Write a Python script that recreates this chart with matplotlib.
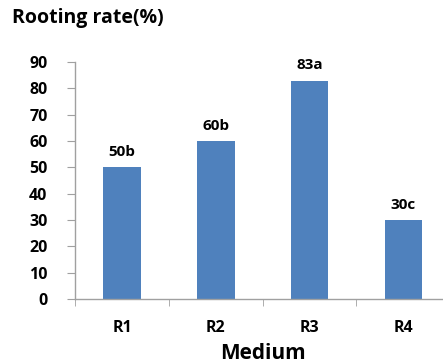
import matplotlib
matplotlib.use("Agg")
import matplotlib.pyplot as plt

categories = ["R1", "R2", "R3", "R4"]
rooting_rate = [50, 60, 83, 30]
letters = ["b", "b", "a", "c"]
yticks = [0, 10, 20, 30, 40, 50, 60, 70, 80, 90]

plt.rcParams["font.family"] = ["Open Sans", "DejaVu Sans"]
plt.rcParams["font.weight"] = "bold"

BAR_COLOR = "#4F81BD"
AXIS_COLOR = "#A0A0A0"

fig = plt.figure(figsize=(4.43, 3.63), dpi=100)
ax = fig.add_axes([0.170, 0.176, 0.846, 0.653])

x = list(range(len(categories)))
ax.bar(x, rooting_rate, width=0.4, color=BAR_COLOR, zorder=2)

for xi, val, let in zip(x, rooting_rate, letters):
    ax.text(xi, val + 3.2, f"{val}{let}", ha="center", va="bottom",
            fontsize=11, fontweight="bold")

ax.set_xlim(-0.5, len(categories) - 0.5)
ax.set_ylim(0, 90)
ax.set_yticks(yticks)
ax.set_yticklabels([str(t) for t in yticks], fontsize=11.5, fontweight="bold")

# category labels centred, ticks at category boundaries
ax.set_xticks(x)
ax.set_xticklabels(categories, fontsize=11.5, fontweight="bold")
ax.set_xticks([i - 0.5 for i in range(len(categories) + 1)], minor=True)
ax.tick_params(axis="x", which="major", length=0, pad=15)
ax.tick_params(axis="x", which="minor", length=5, color=AXIS_COLOR, direction="out")
ax.tick_params(axis="y", length=6, color=AXIS_COLOR, direction="out", pad=14)

for side in ["top", "right"]:
    ax.spines[side].set_visible(False)
for side in ["left", "bottom"]:
    ax.spines[side].set_color(AXIS_COLOR)
    ax.spines[side].set_linewidth(1)

ax.set_xlabel("Medium", fontsize=15, fontweight="bold", labelpad=5)
fig.text(0.027, 0.95, "Rooting rate(%)", fontsize=14, fontweight="bold",
         ha="left", va="center")

fig.savefig("out.png", dpi=100)
